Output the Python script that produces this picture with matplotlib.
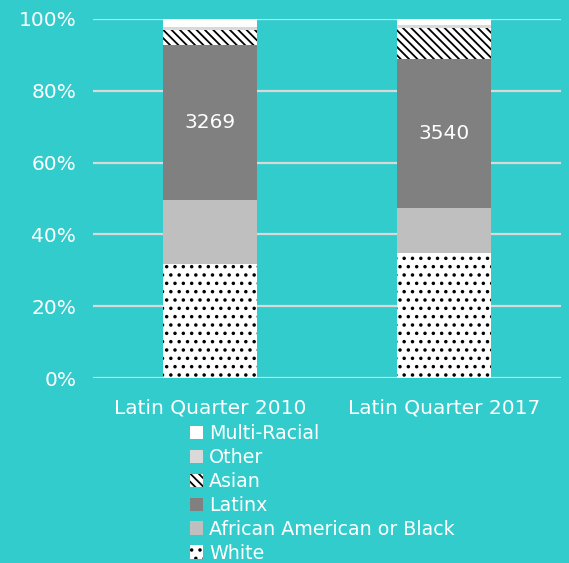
import matplotlib
matplotlib.use("Agg")
import matplotlib.pyplot as plt
import numpy as np

categories = ["Latin Quarter 2010", "Latin Quarter 2017"]
series_names = ["White", "African American or Black", "Latinx", "Asian", "Other", "Multi-Racial"]
white = [31.8, 34.9]
black = [17.9, 12.4]
latinx = [43.1, 41.5]
asian = [4.1, 8.6]
other = [1.0, 0.9]
multi = [2.1, 1.7]
totals = ["3269", "3540"]
yticks = [0, 20, 40, 60, 80, 100]

BG = "#33CCCC"
plt.rcParams['font.family'] = ['DejaVu Sans']
plt.rcParams['hatch.linewidth'] = 1.3

fig = plt.figure(figsize=(5.69, 5.63), dpi=100, facecolor=BG)
ax = fig.add_axes([93/569, 185/563, 468/569, 359/563], facecolor=BG)

styles = [
    dict(color="white", hatch="..", edgecolor="black"),
    dict(color="#BFBFBF", hatch=None, edgecolor="none"),
    dict(color="#808080", hatch=None, edgecolor="none"),
    dict(color="white", hatch="\\\\\\\\", edgecolor="black"),
    dict(color="#D9D9D9", hatch=None, edgecolor="none"),
    dict(color="white", hatch=None, edgecolor="none"),
]
data = [white, black, latinx, asian, other, multi]
x = np.arange(len(categories))
bottom = np.zeros(len(categories))
handles = []
for name, vals, st in zip(series_names, data, styles):
    bars = ax.bar(x, vals, width=0.4, bottom=bottom, color=st["color"],
                  hatch=st["hatch"], edgecolor=st["edgecolor"], linewidth=0,
                  label=name, zorder=3)
    handles.append(bars)
    if name == "Latinx":
        for xi, b, v, t in zip(x, bottom, vals, totals):
            ax.text(xi, b + v / 2, t, ha="center", va="center", color="white",
                    fontsize=14.5, zorder=4)
    bottom = bottom + np.array(vals)

ax.set_xlim(-0.5, 1.5)
ax.set_ylim(0, 100)
ax.set_yticks(yticks)
ax.set_yticklabels([f"{v}%" for v in yticks])
ax.set_xticks(x)
ax.set_xticklabels(categories)
ax.tick_params(axis="both", length=0, colors="white", labelsize=14.5)
ax.tick_params(axis="y", pad=12)
ax.tick_params(axis="x", pad=15)
ax.yaxis.grid(True, color="#D9D9D9", linewidth=1.6, zorder=0)
ax.set_axisbelow(True)
for s in ax.spines.values():
    s.set_visible(False)

leg = fig.legend(handles[::-1], series_names[::-1], loc="upper left",
                 bbox_to_anchor=(190/569, 1 - 424/563), frameon=False,
                 fontsize=13.7, labelcolor="white", handlelength=0.7,
                 handleheight=0.7, handletextpad=0.3, labelspacing=0.26,
                 borderpad=0, borderaxespad=0)

fig.savefig("out.png", dpi=100, facecolor=BG)
